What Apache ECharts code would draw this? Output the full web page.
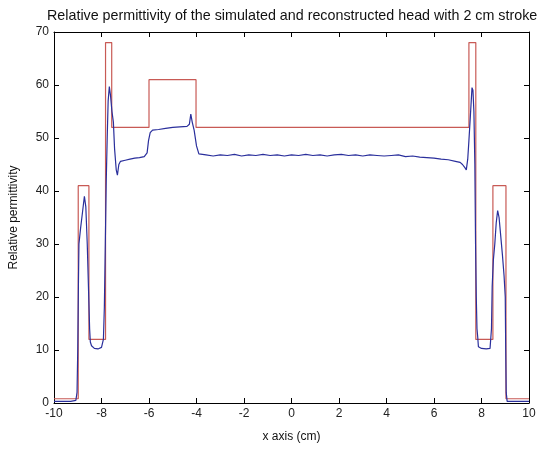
<!DOCTYPE html>
<html>
<head>
<meta charset="utf-8">
<script src="https://cdn.jsdelivr.net/npm/echarts@6/dist/echarts.min.js"></script>
<style>
html,body{margin:0;padding:0;background:#fff;}
#chart{width:539px;height:449px;}
</style>
</head>
<body>
<div id="chart"></div>
<script>
var titleText = "Relative permittivity of the simulated and reconstructed head with 2 cm stroke";
var xName = "x axis (cm)";
var yName = "Relative permittivity";

// simulated (true) profile – step function
var trueX = [-10, -8.98, -8.98, -8.53, -8.53, -7.83, -7.83, -7.57, -7.57, -6.0, -6.0, -4.02, -4.02, 7.47, 7.47, 7.76, 7.76, 8.48, 8.48, 9.03, 9.03, 10];
var trueY = [0.8, 0.8, 41, 41, 12, 12, 68, 68, 52, 52, 61, 61, 52, 52, 68, 68, 12, 12, 41, 41, 0.8, 0.8];

// reconstructed profile
var recX = [-10, -9.3, -9.08, -9.03, -9.0, -8.97, -8.95, -8.88, -8.8, -8.72, -8.66, -8.6, -8.55, -8.5, -8.47, -8.42, -8.3, -8.15, -8.0, -7.92, -7.88, -7.84, -7.8, -7.76, -7.72, -7.67, -7.62, -7.56, -7.5, -7.45, -7.38, -7.33, -7.27, -7.2, -7.0, -6.8, -6.6, -6.4, -6.2, -6.08, -6.02, -5.95, -5.85, -5.6, -5.3, -5.0, -4.7, -4.4, -4.3, -4.24, -4.18, -4.1, -4.0, -3.9,
  -3.6, -3.3, -3.0, -2.7, -2.4, -2.1, -1.8, -1.5, -1.2, -0.9, -0.6, -0.3, 0.0, 0.3, 0.6, 0.9, 1.2, 1.5, 1.8, 2.1, 2.4, 2.7, 3.0, 3.3, 3.6, 3.9, 4.2, 4.5, 4.8, 5.1, 5.4, 5.7, 6.0, 6.3, 6.6, 6.9, 7.1, 7.2, 7.3, 7.36,
  7.42, 7.47, 7.53, 7.6, 7.64, 7.68, 7.72, 7.75, 7.78, 7.81, 7.84, 7.87, 8.0, 8.2, 8.36, 8.42, 8.45, 8.5, 8.56, 8.62, 8.68, 8.74, 8.8, 8.88, 8.95, 9.0, 9.02, 9.04, 9.08, 10];
var recY = [0.3, 0.3, 0.5, 2, 10, 23, 30, 33, 36, 39, 37, 30, 22, 14, 11.5, 10.8, 10.3, 10.2, 10.5, 12, 18, 30, 42, 50, 57, 59.7, 58, 55, 53, 48, 44, 43, 45, 45.6, 45.8, 46.0, 46.2, 46.3, 46.5, 47.2, 49.5, 51, 51.5, 51.6, 51.8, 52.0, 52.1, 52.2, 52.6, 54.5, 53, 51.5, 48.5, 47.0,
  46.8, 46.6, 46.8, 46.7, 46.9, 46.6, 46.8, 46.7, 46.9, 46.7, 46.8, 46.6, 46.8, 46.7, 46.9, 46.7, 46.8, 46.6, 46.8, 46.9, 46.7, 46.8, 46.6, 46.8, 46.7, 46.6, 46.7, 46.8, 46.5, 46.6, 46.4, 46.3, 46.2, 46.0, 45.9, 45.6, 45.4, 45.0, 44.4, 44.0,
  46, 49.5, 54, 59.5, 59, 55, 45, 30, 20, 14, 12.5, 10.6, 10.3, 10.2, 10.3, 14, 22, 27, 30, 34, 36.3, 35, 32, 28, 24, 20, 10, 2, 0.3, 0.3];

var xTicks = [-10, -8, -6, -4, -2, 0, 2, 4, 6, 8, 10];
var yTicks = [0, 10, 20, 30, 40, 50, 60, 70];

function pairs(xs, ys) { var out = []; for (var i = 0; i < xs.length; i++) out.push([xs[i], ys[i]]); return out; }

var font = "Liberation Sans, Arial, sans-serif";
var chart = echarts.init(document.getElementById('chart'), null, {renderer: 'canvas'});
var axisCommon = {
  axisLine: {show: true, onZero: false, lineStyle: {color: '#000', width: 1}},
  axisTick: {show: true, inside: true, length: 5, lineStyle: {color: '#000'}},
  splitLine: {show: false}
};
chart.setOption({
  backgroundColor: '#fff',
  animation: false,
  title: {
    text: titleText, left: 42, top: 4,
    textStyle: {fontFamily: font, fontSize: 14.3, fontWeight: 'normal', color: '#111'}
  },
  grid: {left: 54, right: 10, top: 32, bottom: 46},
  xAxis: [
    Object.assign({type: 'value', min: xTicks[0], max: xTicks[xTicks.length - 1], interval: 2, position: 'bottom',
      name: xName, nameLocation: 'middle', nameGap: 28,
      nameTextStyle: {fontFamily: font, fontSize: 12, color: '#111'},
      axisLabel: {fontFamily: font, fontSize: 12, color: '#222', margin: 5}}, axisCommon),
    Object.assign({type: 'value', min: xTicks[0], max: xTicks[xTicks.length - 1], interval: 2, position: 'top',
      axisLabel: {show: false}}, axisCommon)
  ],
  yAxis: [
    Object.assign({type: 'value', min: yTicks[0], max: yTicks[yTicks.length - 1], interval: 10, position: 'left',
      name: yName, nameLocation: 'middle', nameGap: 34,
      nameTextStyle: {fontFamily: font, fontSize: 12, color: '#111'},
      axisLabel: {fontFamily: font, fontSize: 12, color: '#222', margin: 5}}, axisCommon),
    Object.assign({type: 'value', min: yTicks[0], max: yTicks[yTicks.length - 1], interval: 10, position: 'right',
      axisLabel: {show: false}}, axisCommon)
  ],
  series: [
    {type: 'line', data: pairs(trueX, trueY), showSymbol: false, symbol: 'none',
      lineStyle: {color: '#c85a55', width: 1.2}, z: 2},
    {type: 'line', data: pairs(recX, recY), showSymbol: false, symbol: 'none',
      lineStyle: {color: '#2a2f9c', width: 1.2}, z: 3}
  ]
});
</script>
</body>
</html>
